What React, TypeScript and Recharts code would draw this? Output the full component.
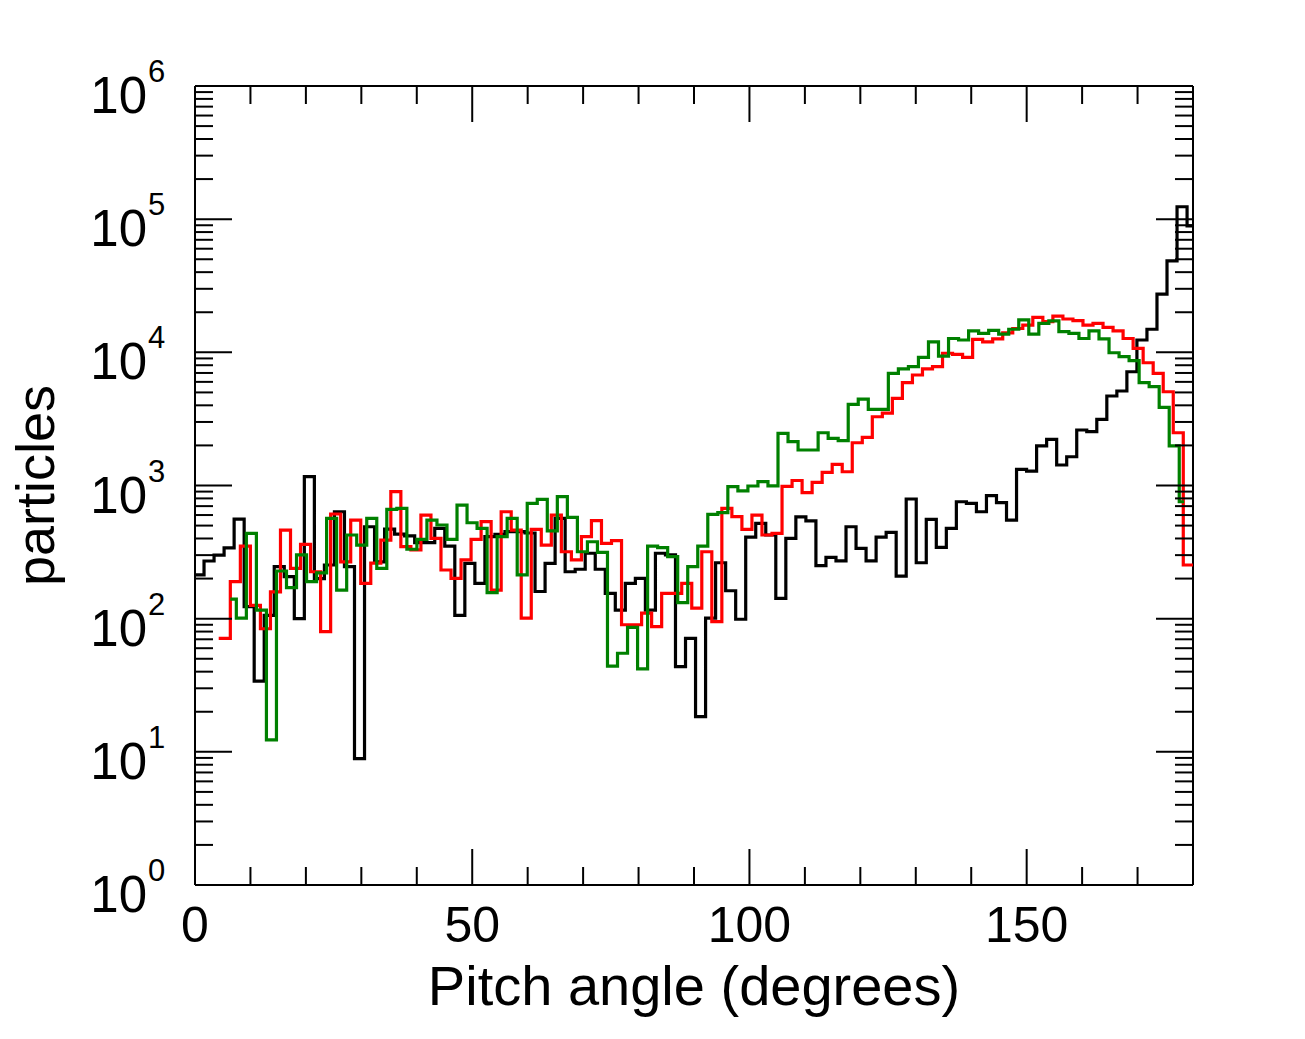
import React from 'react';
import { LineChart, Line, XAxis, YAxis, ReferenceLine } from 'recharts';

// ---- data (values per histogram bin) ----
const blackValues = [
  213, 271, 300, 340, 560, 123, 34, 106, 246, 207,
  100, 1164, 200, 253, 635, 246, 8.9, 490, 267, 470,
  432, 418, 372, 372, 477, 351, 106, 260, 184, 413,
  430, 450, 450, 440, 160, 260, 567, 225, 235, 310,
  235, 155, 116, 184, 201, 116, 310, 301, 43.6, 71,
  18.4, 101, 263, 162, 99, 409, 520, 425, 142, 401,
  582, 543, 250, 289, 272, 490, 337, 272, 409, 445,
  209, 792, 263, 556, 343, 477, 755, 734, 635, 840,
  745, 550, 1322, 1284, 1982, 2222, 1425, 1644, 2611, 2535,
  3140, 4700, 5125, 7150, 12380, 14900, 27400, 48700, 124000, 88900,
];

const redValues = [
  71, 190, 351, 126, 84, 159, 463, 239, 361, 225,
  80, 611, 267, 550, 184, 261, 389, 898, 347, 328,
  600, 401, 232, 201, 276, 394, 535, 164, 635, 463,
  101, 469, 357, 600, 318, 276, 413, 544, 367, 385,
  90, 90, 110, 87, 155, 155, 184, 120, 318, 95,
  674, 583, 469, 600, 425, 437, 985, 1090, 883, 1055,
  1254, 1439, 1268, 2094, 2298, 3283, 3500, 4514, 5920, 6760,
  7500, 7800, 9840, 9660, 9170, 12500, 12000, 12600, 14000, 15100,
  16000, 18300, 17000, 18700, 17800, 17300, 16000, 16500, 15400, 14500,
  12700, 10700, 8350, 6950, 5060, 2490, 253,
];

const greenValues = [
  140, 101, 437, 116, 12.3, 228, 171, 301, 190, 221,
  567, 164, 425, 357, 567, 239, 662, 674, 332, 394,
  550, 505, 394, 713, 525, 477, 157, 413, 567, 213,
  734, 787, 457, 824, 577, 318, 378, 315, 44, 55,
  86, 42, 351, 341, 292, 132, 246, 351, 607, 625,
  980, 910, 991, 1068, 995, 2466, 2133, 1847, 1847, 2490,
  2260, 2170, 4070, 4460, 3730, 3730, 6950, 7500, 7800, 9170,
  12000, 9380, 12700, 12380, 14500, 13900, 14600, 13700, 14900, 17500,
  13700, 16500, 17200, 14300, 13900, 12700, 14500, 12600, 9930, 9270,
  8650, 5920, 5520, 3860, 1982, 755,
];

// bin layout of each series (degrees)
const BIN_WIDTH = 1.8092;
const blackBins = { start: 0, firstEdge: 1.629, end: 180 };
const redBins = { start: 4.275, firstEdge: 6.372, end: 180 };
const greenBins = { start: 6.367, firstEdge: 7.455, end: 178.4 };

// ticks
const xMajorTicks = [0, 50, 100, 150];
const xAllTicks = [0, 10, 20, 30, 40, 50, 60, 70, 80, 90, 100, 110, 120, 130, 140, 150, 160, 170];
const yMajorTicks = [1, 10, 100, 1000, 10000, 100000, 1000000];
const yMinorMultipliers = [2, 3, 4, 5, 6, 7, 8, 9];
const yAllTicks: number[] = [];
yMajorTicks.forEach((d, i) => {
  yAllTicks.push(d);
  if (i < yMajorTicks.length - 1) yMinorMultipliers.forEach((m) => yAllTicks.push(m * d));
});

type Bins = { start: number; firstEdge: number; end: number };
function buildSeries(values: number[], bins: Bins) {
  const pts = values.map((v, i) => ({
    x: i === 0 ? bins.start : bins.firstEdge + (i - 1) * BIN_WIDTH,
    y: v,
  }));
  pts.push({ x: bins.end, y: values[values.length - 1] });
  return pts;
}

const blackData = buildSeries(blackValues, blackBins);
const redData = buildSeries(redValues, redBins);
const greenData = buildSeries(greenValues, greenBins);

// layout
const CHART_W = 1280;
const CHART_H = 1020;
const MARGIN = { top: 78, right: 95, bottom: 0, left: 0 };
const Y_AXIS_W = 187;
const X_AXIS_H = 143;
const PLOT_TOP = MARGIN.top;
const PLOT_RIGHT = CHART_W - MARGIN.right;
const MAJOR_LEN = 37;
const MINOR_LEN = 18;

const FONT = '"Liberation Sans", Arial, Helvetica, sans-serif';
const TICK_STROKE = { stroke: '#000', strokeWidth: 2 };

const XTick = (props: any) => {
  const { x, y, payload } = props;
  const major = xMajorTicks.includes(payload.value);
  const len = major ? MAJOR_LEN - 1 : MINOR_LEN;
  return (
    <g>
      <line x1={x} y1={y} x2={x} y2={y - len} {...TICK_STROKE} />
      <line x1={x} y1={PLOT_TOP} x2={x} y2={PLOT_TOP + len} {...TICK_STROKE} />
      {major && (
        <text x={x} y={y + 57} textAnchor="middle" fontFamily={FONT} fontSize={50} fill="#000">
          {payload.value}
        </text>
      )}
    </g>
  );
};

const YTick = (props: any) => {
  const { x, y, payload } = props;
  const major = yMajorTicks.includes(payload.value);
  const len = major ? MAJOR_LEN : MINOR_LEN;
  const exp = Math.round(Math.log10(payload.value));
  return (
    <g>
      <line x1={x} y1={y} x2={x + len} y2={y} {...TICK_STROKE} />
      <line x1={PLOT_RIGHT} y1={y} x2={PLOT_RIGHT - len} y2={y} {...TICK_STROKE} />
      {major && (
        <g>
          <text x={x - 48} y={y + 27} textAnchor="end" fontFamily={FONT} fontSize={51} fill="#000">
            10
          </text>
          <text x={x - 47} y={y - 4} textAnchor="start" fontFamily={FONT} fontSize={31} fill="#000">
            {exp}
          </text>
        </g>
      )}
    </g>
  );
};

const XTitle = (props: any) => {
  const vb = props.viewBox || {};
  return (
    <text
      x={vb.x + vb.width / 2}
      y={vb.y + 120}
      textAnchor="middle"
      fontFamily={FONT}
      fontSize={56}
      fill="#000"
    >
      Pitch angle (degrees)
    </text>
  );
};

const YTitle = (props: any) => {
  const vb = props.viewBox || {};
  const cx = 46;
  const cy = vb.y + vb.height / 2;
  return (
    <text
      x={cx}
      y={cy}
      transform={`rotate(-90, ${cx}, ${cy})`}
      textAnchor="middle"
      fontFamily={FONT}
      fontSize={54}
      fill="#000"
    >
      particles
    </text>
  );
};

const lineStyle = { stroke: '#000', strokeWidth: 2 };

export default function App() {
  return (
    <div style={{ width: CHART_W, height: CHART_H, background: '#fff' }}>
      <LineChart width={CHART_W} height={CHART_H} margin={MARGIN}>
        <XAxis
          xAxisId="main"
          type="number"
          dataKey="x"
          domain={[0, 180]}
          allowDataOverflow
          ticks={xAllTicks}
          interval={0}
          tickSize={0}
          tickMargin={0}
          tickLine={false}
          axisLine={lineStyle}
          tick={<XTick />}
          height={X_AXIS_H}
          label={<XTitle />}
        />
        <YAxis
          yAxisId="main"
          type="number"
          scale="log"
          domain={[1, 1000000]}
          allowDataOverflow
          ticks={yAllTicks}
          interval={0}
          tickSize={0}
          tickMargin={0}
          tickLine={false}
          axisLine={lineStyle}
          tick={<YTick />}
          width={Y_AXIS_W}
          label={<YTitle />}
        />
        <ReferenceLine xAxisId="main" yAxisId="main" y={1000000} stroke="#000" strokeWidth={2} />
        <ReferenceLine xAxisId="main" yAxisId="main" x={180} stroke="#000" strokeWidth={2} />

        <Line xAxisId="main" yAxisId="main" data={blackData} dataKey="y" type="stepAfter" stroke="#000000"
          strokeWidth={3.2} dot={false} activeDot={false} isAnimationActive={false} />
        <Line xAxisId="main" yAxisId="main" data={redData} dataKey="y" type="stepAfter" stroke="#ff0000"
          strokeWidth={3.2} dot={false} activeDot={false} isAnimationActive={false} />
        <Line xAxisId="main" yAxisId="main" data={greenData} dataKey="y" type="stepAfter" stroke="#008000"
          strokeWidth={3.2} dot={false} activeDot={false} isAnimationActive={false} />
      </LineChart>
    </div>
  );
}
